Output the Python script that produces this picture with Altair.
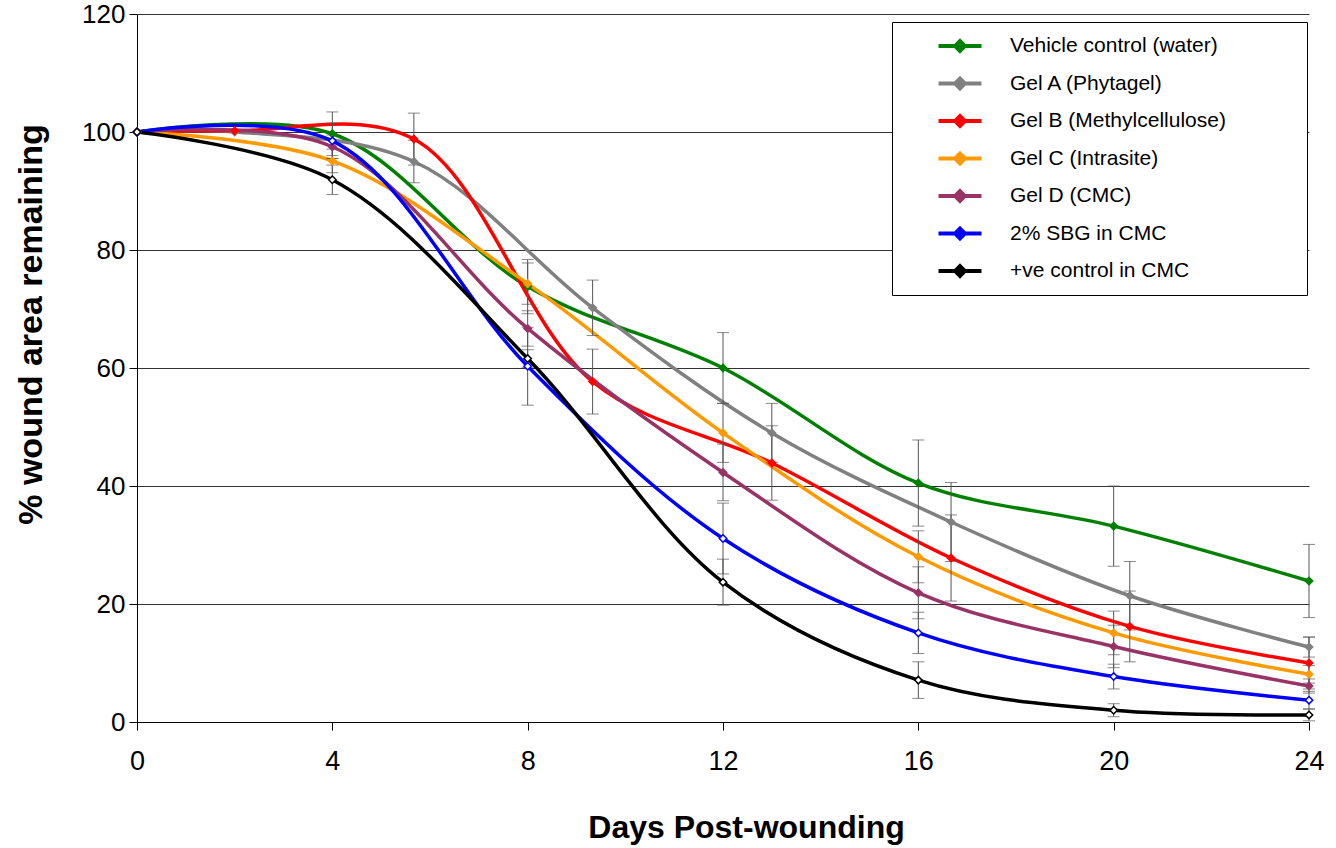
import altair as alt
import pandas as pd

series_names = [
    "Vehicle control (water)",
    "Gel A (Phytagel)",
    "Gel B (Methylcellulose)",
    "Gel C (Intrasite)",
    "Gel D (CMC)",
    "2% SBG in CMC",
    "+ve control in CMC",
]
line_colors = ["#008000", "#808080", "#FF0000", "#FF9900", "#993366", "#0000FF", "#000000"]
marker_fills = ["#008000", "#808080", "#FF0000", "#FF9900", "#993366", "#FFFFFF", "#FFFFFF"]

days_main = [0, 4, 8, 12, 16, 20, 24]
days_alt = [0, 2, 5.67, 9.33, 13, 16.67, 20.33, 24]

vehicle = [100, 99.7, 73.8, 60.0, 40.5, 33.2, 23.9]
vehicle_err = [0, 3.7, 4.6, 6.0, 7.3, 6.8, 6.2]
gel_a = [100, 100, 95.0, 70.2, 49.0, 33.9, 21.4, 12.7]
gel_a_err = [0, 0, 3.6, 4.7, 5.0, 6.7, 5.8, 1.7]
gel_b = [100, 100.2, 98.8, 57.7, 43.9, 27.8, 16.2, 10.0]
gel_b_err = [0, 0, 4.4, 5.5, 6.3, 7.3, 6.0, 4.4]
gel_c = [100, 95.1, 74.3, 49.0, 28.0, 15.1, 8.1]
gel_c_err = [0, 2.0, 3.5, 5.0, 4.4, 3.7, 1.5]
gel_d = [100, 97.5, 66.7, 42.3, 21.9, 12.8, 6.1]
gel_d_err = [0, 2.0, 3.0, 4.8, 4.4, 3.6, 1.2]
sbg = [100, 98.5, 60.3, 31.1, 15.1, 7.7, 3.7]
sbg_err = [0, 3.0, 6.6, 6.0, 3.5, 2.1, 1.5]
pos_ctrl = [100, 91.9, 61.6, 23.7, 7.1, 2.0, 1.2]
pos_ctrl_err = [0, 2.5, 1.5, 3.9, 3.1, 1.1, 1.0]

x_ticks = [0, 4, 8, 12, 16, 20, 24]
y_ticks = [0, 20, 40, 60, 80, 100, 120]

series_data = [
    (series_names[0], days_main, vehicle, vehicle_err),
    (series_names[1], days_alt, gel_a, gel_a_err),
    (series_names[2], days_alt, gel_b, gel_b_err),
    (series_names[3], days_main, gel_c, gel_c_err),
    (series_names[4], days_main, gel_d, gel_d_err),
    (series_names[5], days_main, sbg, sbg_err),
    (series_names[6], days_main, pos_ctrl, pos_ctrl_err),
]

rows = []
for name, days, vals, errs in series_data:
    for d, v, e in zip(days, vals, errs):
        rows.append({"series": name, "day": d, "value": v, "err": e,
                     "lo": v - e, "hi": v + e})
df = pd.DataFrame(rows)
df_err = df[df["err"] > 0]

FONT = "Liberation Sans"

x_enc = alt.X("day:Q", scale=alt.Scale(domain=[0, 24], nice=False),
              axis=alt.Axis(values=x_ticks, title="Days Post-wounding", grid=False,
                            labelFontSize=27, titleFontSize=32, titleFontWeight="bold",
                            labelFont=FONT, titleFont=FONT, tickSize=8, tickColor="black",
                            domainColor="black", labelColor="black", titleColor="black",
                            labelPadding=18, titlePadding=38, titleX=609,
                            labelFlush=False))
y_enc = alt.Y("value:Q", scale=alt.Scale(domain=[0, 120], nice=False),
              axis=alt.Axis(values=y_ticks, title="% wound area remaining", grid=True,
                            gridColor="#333333", gridWidth=1,
                            labelFontSize=26, titleFontSize=34, titleFontWeight="bold",
                            labelFont=FONT, titleFont=FONT, tickSize=8, tickColor="black",
                            domainColor="black", labelColor="black", titleColor="black",
                            labelPadding=4, titlePadding=33, titleY=310))

pad_right = "\u00a0" * 12 + "\u200d"
legend = alt.Legend(
    title=" ", titleOrient="left", titleFontSize=10, titlePadding=44,
    orient="none", legendX=755, legendY=8,
    padding=11, fillColor="white", strokeColor="black",
    labelFont=FONT, labelFontSize=21, labelColor="black", labelLimit=600,
    labelOffset=37, rowPadding=11.5,
    symbolType="M-2,0L2,0M0,-0.45L0.45,0L0,0.45L-0.45,0Z",
    symbolSize=462, symbolStrokeWidth=4,
    labelExpr="datum.label + '" + pad_right + "'",
)

color_enc = alt.Color("series:N", scale=alt.Scale(domain=series_names, range=line_colors),
                      legend=legend)

base = alt.Chart(df)

errbars = alt.Chart(df_err).mark_rule(color="#555555", strokeWidth=1).encode(
    x=x_enc, y=alt.Y("lo:Q"), y2="hi:Q")
cap_lo = alt.Chart(df_err).mark_tick(color="#555555", thickness=1, size=12,
                                     orient="horizontal").encode(x="day:Q", y="lo:Q")
cap_hi = alt.Chart(df_err).mark_tick(color="#555555", thickness=1, size=12,
                                     orient="horizontal").encode(x="day:Q", y="hi:Q")

lines = base.mark_line(interpolate="catmull-rom", strokeWidth=3.5).encode(
    x=x_enc, y=y_enc, color=color_enc)

points = base.mark_point(shape="diamond", size=55, filled=False, strokeWidth=1.5,
                         opacity=1, fillOpacity=1).encode(
    x="day:Q", y="value:Q", color=color_enc,
    fill=alt.Fill("series:N", scale=alt.Scale(domain=series_names, range=marker_fills),
                  legend=None))

chart = alt.layer(lines, errbars, cap_lo, cap_hi, points).properties(
    width=1172, height=708,
    autosize=alt.AutoSizeParams(type="none"),
    padding={"left": 137, "top": 14, "right": 27, "bottom": 126},
    background="white",
).configure_view(stroke=None)

chart.save("out.html", embed_options={"renderer": "svg", "actions": False})
